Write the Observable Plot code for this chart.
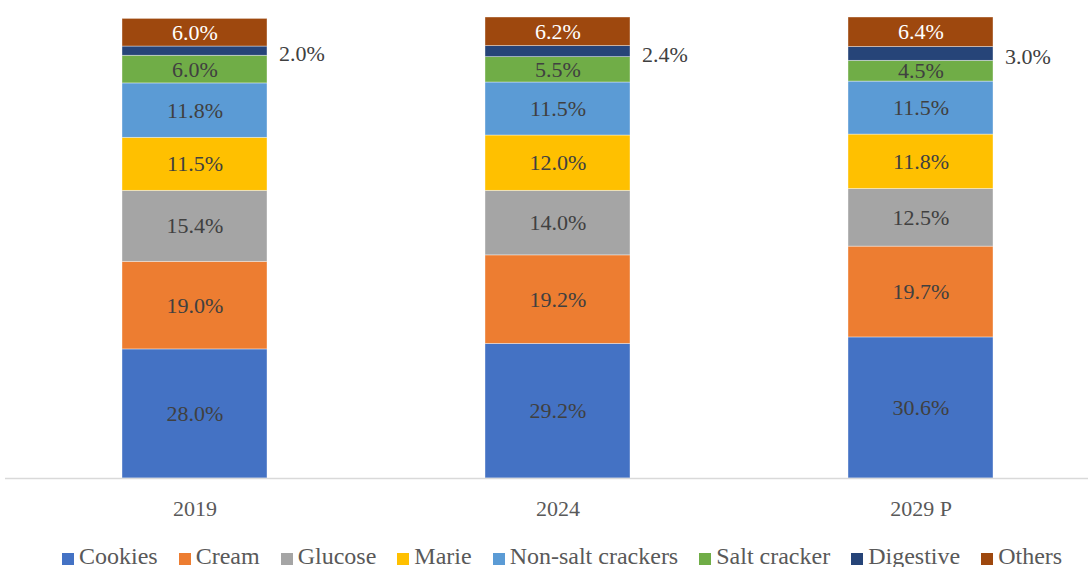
<!DOCTYPE html>
<html>
<head>
<meta charset="utf-8">
<script src="https://cdn.jsdelivr.net/npm/d3@7"></script>
<script src="https://cdn.jsdelivr.net/npm/@observablehq/plot@0.6"></script>
<style>
  html, body { margin: 0; padding: 0; background: #fff; overflow: hidden; }
  #wrap { position: relative; width: 1088px; height: 567px; font-family: "Liberation Serif", "Times New Roman", serif; }
  #legend { position: absolute; left: 62px; top: 541px; display: flex; align-items: center; white-space: nowrap;
            font-size: 24px; color: #595959; line-height: 30px; }
  #legend .item { display: flex; align-items: center; margin-right: 21px; }
  #legend .sw { width: 12px; height: 12px; margin-right: 5px; margin-top: 5px; }
</style>
</head>
<body>
<div id="wrap">
  <div id="chart"></div>
  <div id="legend"></div>
</div>
<script>
// Biscuit segment shares by year (%)
const years = ["2019", "2024", "2029 P"];
const segments = ["Cookies", "Cream", "Glucose", "Marie", "Non-salt crackers", "Salt cracker", "Digestive", "Others"];
const colors = ["#4472C4", "#ED7D31", "#A5A5A5", "#FFC000", "#5B9BD5", "#70AD47", "#264478", "#9E480E"];

const cookies     = [28.0, 29.2, 30.6];
const cream       = [19.0, 19.2, 19.7];
const glucose     = [15.4, 14.0, 12.5];
const marie       = [11.5, 12.0, 11.8];
const nonSalt     = [11.8, 11.5, 11.5];
const saltCracker = [6.0, 5.5, 4.5];
const digestive   = [2.0, 2.4, 3.0];
const others      = [6.0, 6.2, 6.4];

const seriesValues = [cookies, cream, glucose, marie, nonSalt, saltCracker, digestive, others];

const rows = [];
segments.forEach((seg, si) => {
  years.forEach((yr, yi) => {
    rows.push({year: yr, segment: seg, value: seriesValues[si][yi]});
  });
});

const fmt = d => d.value.toFixed(1) + "%";
const stackOpts = {x: "year", y: "value", z: "segment", order: segments};

// Stack every segment first, then keep only the labels a mark should draw
const labels = (test, extra) => Plot.filter(test, Plot.stackY({...stackOpts, text: fmt, fontSize: 22, ...extra}));

const chart = Plot.plot({
  width: 1088,
  height: 532,
  marginTop: 17,
  marginBottom: 54,
  marginLeft: 5,
  marginRight: 0,
  style: {fontFamily: "'Liberation Serif', 'Times New Roman', serif", background: "#fff"},
  x: {domain: years, paddingInner: 0.601, paddingOuter: 0.29, align: 0.55, axis: null},
  y: {domain: [0, 100], axis: null},
  color: {domain: segments, range: colors},
  marks: [
    Plot.barY(rows, Plot.stackY({...stackOpts, fill: "segment", stroke: "#ffffff", strokeOpacity: 0.5, strokeWidth: 0.75})),
    Plot.ruleY([0], {stroke: "#d9d9d9", strokeWidth: 1.5}),
    Plot.text(rows, labels(d => d.segment !== "Digestive" && d.segment !== "Others", {fill: "#404040"})),
    Plot.text(rows, labels(d => d.segment === "Others", {fill: "#ffffff"})),
    Plot.text(rows, labels(d => d.segment === "Digestive", {fill: "#404040", textAnchor: "start", dx: 84, dy: 3})),
    Plot.axisX({tickSize: 0, tickPadding: 22, fontSize: 22, fill: "#595959", label: null})
  ]
});
document.getElementById("chart").appendChild(chart);

// Legend row below the plot
const legend = document.getElementById("legend");
segments.forEach((seg, i) => {
  const item = document.createElement("div");
  item.className = "item";
  const sw = document.createElement("span");
  sw.className = "sw";
  sw.style.background = colors[i];
  const label = document.createElement("span");
  label.textContent = seg;
  item.appendChild(sw);
  item.appendChild(label);
  legend.appendChild(item);
});
</script>
</body>
</html>
